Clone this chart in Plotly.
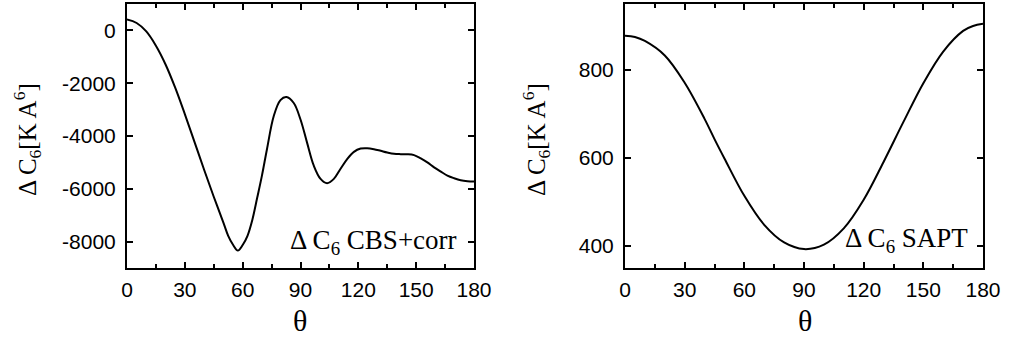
import plotly.graph_objects as go

# Left panel: Delta C6 CBS+corr
theta_cbs = [0, 5, 10, 15, 20, 25, 30, 35, 40, 45, 50, 52.5, 55, 57.5, 60, 62.5, 65, 67.5, 70,
             72.6, 76.1, 79.6, 82.7, 86.5, 90, 93.4, 96.9, 100.4, 103.8, 107.3, 110.7, 114.2,
             117.7, 121.2, 124.6, 128.1, 131.6, 135, 138.5, 142, 145.4, 148.9, 152.4, 155.8,
             159.3, 162.8, 166.2, 169.7, 173.1, 176.6, 180]
c6_cbs = [410, 280, -40, -580, -1290, -2170, -3170, -4220, -5280, -6300, -7280, -7780, -8120,
          -8340, -8130, -7780, -7180, -6350, -5500,
          -4500, -3250, -2640, -2525, -2750, -3375, -4250, -5125, -5625, -5787, -5625, -5250,
          -4875, -4600, -4475, -4462, -4500, -4562, -4625, -4675, -4687, -4690, -4725, -4850,
          -5000, -5187, -5350, -5500, -5600, -5675, -5712, -5725]

# Right panel: Delta C6 SAPT
theta_sapt = [0, 5, 10, 20, 30, 40, 45, 50, 60, 70, 80, 90, 100, 110, 120, 130, 140, 150, 160,
              170, 175, 180]
c6_sapt = [878, 875, 866, 833, 771, 689, 643, 599, 514, 448, 408, 393, 403, 440, 505, 591, 682,
           770, 842, 889, 900, 905]

x_ticks = [0, 30, 60, 90, 120, 150, 180]
x_ticktext = ["0", "30", "60", "90", "120", "150", "180"]
y_ticks_cbs = [0, -2000, -4000, -6000, -8000]
y_ticktext_cbs = ["0", "-2000", "-4000", "-6000", "-8000"]
y_ticks_sapt = [400, 600, 800]
y_ticktext_sapt = ["400", "600", "800"]

W, H = 1010, 341
TICKFONT = dict(family="Liberation Sans", size=21, color="black")
SERIF = "Liberation Serif"

fig = go.Figure()
fig.add_trace(go.Scatter(x=theta_cbs, y=c6_cbs, mode="lines",
                         line=dict(color="black", width=2, shape="spline", smoothing=1.0),
                         xaxis="x", yaxis="y", showlegend=False))
fig.add_trace(go.Scatter(x=theta_sapt, y=c6_sapt, mode="lines",
                         line=dict(color="black", width=2, shape="spline", smoothing=1.0),
                         xaxis="x2", yaxis="y2", showlegend=False))

def xax(domain, anchor):
    return dict(domain=domain, anchor=anchor, range=[0, 180], tickmode="array", tickvals=x_ticks,
                ticktext=x_ticktext, ticks="inside", ticklen=6, tickwidth=1.5, tickcolor="black",
                showline=True, linewidth=2, linecolor="black", mirror="ticks", showgrid=False,
                zeroline=False, tickfont=TICKFONT, automargin=False, ticklabelstandoff=2,
                minor=dict(tickmode="linear", tick0=0, dtick=15, ticks="inside", ticklen=4,
                           tickwidth=1.5, tickcolor="black", showgrid=False))

def yax(domain, anchor, rng, tv, tt):
    return dict(domain=domain, anchor=anchor, range=rng, tickmode="array", tickvals=tv, ticktext=tt,
                ticks="inside", ticklen=6, tickwidth=1.5, tickcolor="black", showline=True, linewidth=2,
                linecolor="black", mirror="ticks", showgrid=False, zeroline=False, tickfont=TICKFONT,
                automargin=False, ticklabelstandoff=5)

ydom = [1 - 268 / H, 1 - 4 / H]
fig.update_layout(
    width=W, height=H, margin=dict(l=0, r=0, t=0, b=0),
    paper_bgcolor="white", plot_bgcolor="white",
    xaxis=xax([127 / W, 474 / W], "y"),
    yaxis=yax(ydom, "x", [-9000, 1000], y_ticks_cbs, y_ticktext_cbs),
    xaxis2=xax([625 / W, 983 / W], "y2"),
    yaxis2=yax(ydom, "x2", [350, 950], y_ticks_sapt, y_ticktext_sapt),
)

ann = [
    dict(text="θ", x=300 / W, y=1 - 320 / H, font=dict(family=SERIF, size=30)),
    dict(text="θ", x=805 / W, y=1 - 320 / H, font=dict(family=SERIF, size=30)),
    dict(text="Δ C<sub>6</sub>[K A<sup>6</sup>]", x=27 / W, y=1 - 140 / H, textangle=-90,
         font=dict(family=SERIF, size=25)),
    dict(text="Δ C<sub>6</sub>[K A<sup>6</sup>]", x=536 / W, y=1 - 140 / H, textangle=-90,
         font=dict(family=SERIF, size=25)),
    dict(text="Δ C<sub>6</sub> CBS+corr", x=373 / W, y=1 - 242 / H, font=dict(family=SERIF, size=27)),
    dict(text="Δ C<sub>6</sub> SAPT", x=906 / W, y=1 - 240 / H, font=dict(family=SERIF, size=27)),
]
for a in ann:
    a.update(xref="paper", yref="paper", showarrow=False, xanchor="center", yanchor="middle")
    a["font"]["color"] = "black"
fig.update_layout(annotations=ann)

fig.write_html("out.html")
